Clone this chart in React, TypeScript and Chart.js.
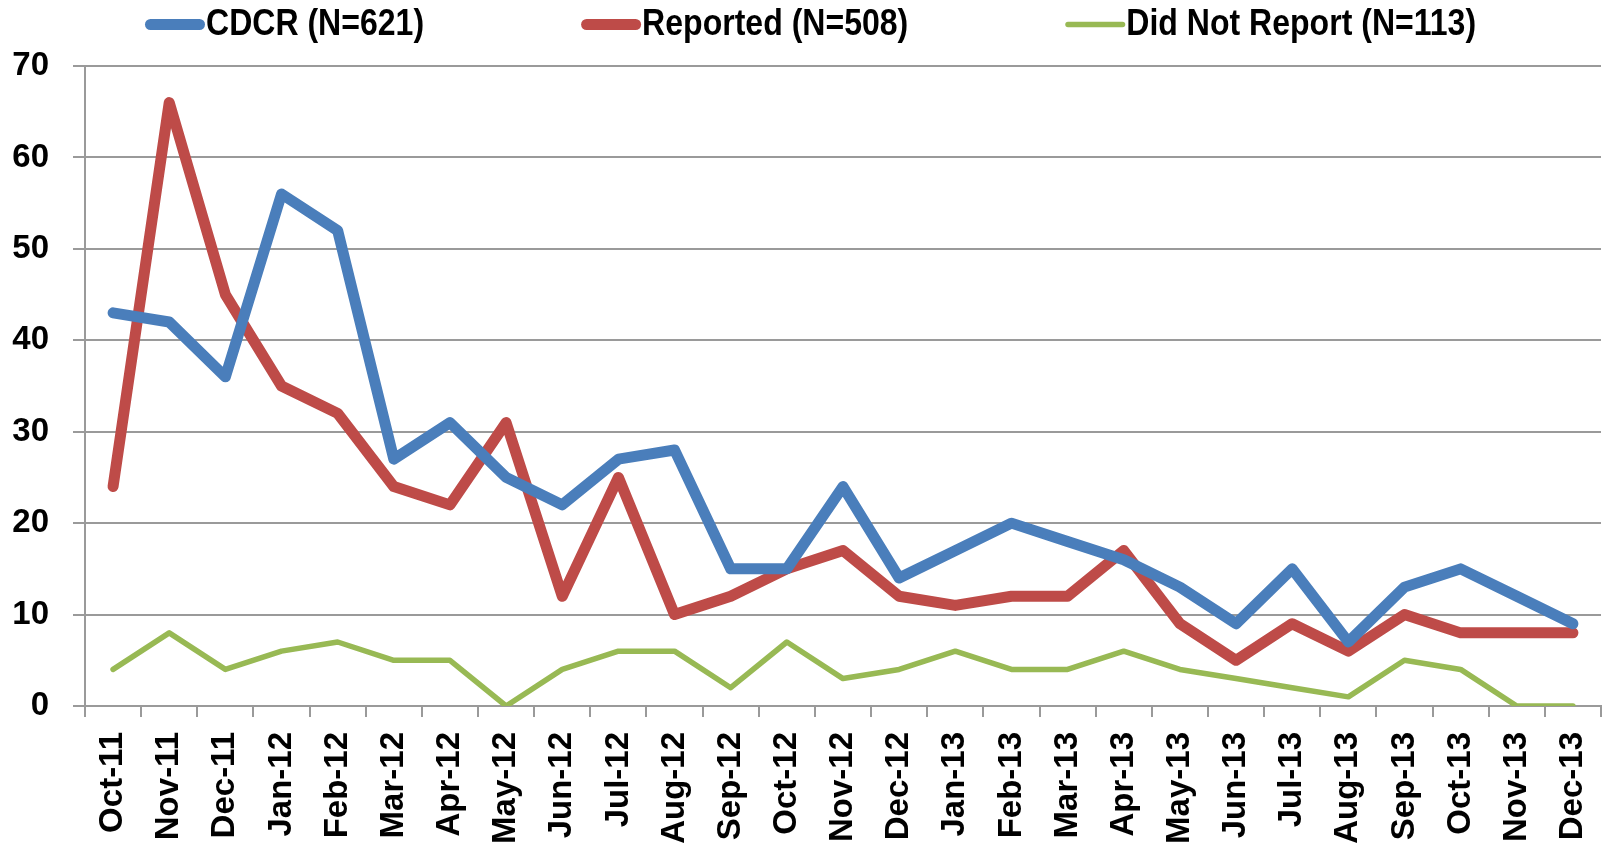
import React, { useEffect, useRef } from 'react';
import { Chart, registerables } from 'chart.js';

Chart.register(...registerables);

const months = [
  'Oct-11', 'Nov-11', 'Dec-11', 'Jan-12', 'Feb-12', 'Mar-12', 'Apr-12', 'May-12', 'Jun-12',
  'Jul-12', 'Aug-12', 'Sep-12', 'Oct-12', 'Nov-12', 'Dec-12', 'Jan-13', 'Feb-13', 'Mar-13',
  'Apr-13', 'May-13', 'Jun-13', 'Jul-13', 'Aug-13', 'Sep-13', 'Oct-13', 'Nov-13', 'Dec-13',
];

const cdcr = [43, 42, 36, 56, 52, 27, 31, 25, 22, 27, 28, 15, 15, 24, 14, 17, 20, 18, 16, 13, 9, 15, 7, 13, 15, 12, 9];
const reported = [24, 66, 45, 35, 32, 24, 22, 31, 12, 25, 10, 12, 15, 17, 12, 11, 12, 12, 17, 9, 5, 9, 6, 10, 8, 8, 8];
const didNotReport = [4, 8, 4, 6, 7, 5, 5, 0, 4, 6, 6, 2, 7, 3, 4, 6, 4, 4, 6, 4, 3, 2, 1, 5, 4, 0, 0];

const seriesLabels = ['CDCR (N=621)', 'Reported (N=508)', 'Did Not Report (N=113)'];
const yMin = 0;
const yMax = 70;
const yStep = 10;

const BLUE = '#4A7EBB';
const RED = '#BE4B48';
const GREEN = '#98B954';
const GRID = '#9a9a9a';
const TICK_FONT = '"Liberation Sans", Arial, sans-serif';
const LEGEND_FONT = '"Liberation Sans", Arial, sans-serif';

export default function App() {
  const ref = useRef<HTMLCanvasElement>(null);

  useEffect(() => {
    if (!ref.current) return;

    const legendPlugin = {
      id: 'topLegend',
      afterDraw(chart: any) {
        const ctx = chart.ctx as CanvasRenderingContext2D;
        const y = 24.5;
        const squeeze = 0.89;
        let x = 145;
        ctx.save();
        ctx.font = `bold 36px ${LEGEND_FONT}`;
        ctx.textBaseline = 'middle';
        ctx.textAlign = 'left';
        chart.data.datasets.forEach((ds: any) => {
          const lw = ds.borderWidth;
          ctx.beginPath();
          ctx.strokeStyle = ds.borderColor;
          ctx.lineWidth = lw;
          ctx.lineCap = 'round';
          ctx.moveTo(x + lw / 2, y);
          ctx.lineTo(x + 60 - lw / 2, y);
          ctx.stroke();
          ctx.fillStyle = '#000';
          const tx = x + 61;
          ctx.save();
          ctx.translate(tx, y + 1);
          ctx.scale(squeeze, 1);
          ctx.fillText(ds.label, 0, 0);
          ctx.restore();
          x = tx + ctx.measureText(ds.label).width * squeeze + 157;
        });
        ctx.restore();
      },
    };

    const chart = new Chart(ref.current, {
      type: 'line',
      data: {
        labels: months,
        datasets: [
          {
            label: seriesLabels[0],
            data: cdcr,
            borderColor: BLUE,
            backgroundColor: BLUE,
            borderWidth: 11,
            pointRadius: 0,
            borderJoinStyle: 'round',
            borderCapStyle: 'round',
            tension: 0,
          },
          {
            label: seriesLabels[1],
            data: reported,
            borderColor: RED,
            backgroundColor: RED,
            borderWidth: 11,
            pointRadius: 0,
            borderJoinStyle: 'round',
            borderCapStyle: 'round',
            tension: 0,
          },
          {
            label: seriesLabels[2],
            data: didNotReport,
            borderColor: GREEN,
            backgroundColor: GREEN,
            borderWidth: 5.5,
            pointRadius: 0,
            borderJoinStyle: 'round',
            borderCapStyle: 'round',
            tension: 0,
          },
        ],
      },
      options: {
        animation: false,
        responsive: true,
        maintainAspectRatio: false,
        layout: { padding: { top: 66, right: 3, left: 0, bottom: 0 } },
        plugins: {
          legend: { display: false },
          tooltip: { enabled: false },
        },
        scales: {
          x: {
            offset: true,
            afterFit: (s: any) => {
              s.height = 141;
              s.paddingLeft = 0;
              s.paddingRight = 0;
            },
            grid: {
              drawOnChartArea: false,
              drawTicks: true,
              tickLength: 11,
              color: GRID,
              lineWidth: 2,
              offset: true,
            },
            border: { color: GRID, width: 2 },
            ticks: {
              autoSkip: false,
              minRotation: 90,
              maxRotation: 90,
              padding: 15,
              color: '#000',
              font: { family: TICK_FONT, size: 33, weight: 'bold' },
            },
          },
          y: {
            min: yMin,
            max: yMax,
            afterFit: (s: any) => { s.width = 85; },
            grid: {
              color: GRID,
              lineWidth: 2,
              drawTicks: true,
              tickLength: 12,
            },
            border: { color: GRID, width: 2 },
            ticks: {
              stepSize: yStep,
              padding: 24,
              color: '#000',
              font: { family: TICK_FONT, size: 33, weight: 'bold' },
            },
          },
        },
      },
      plugins: [legendPlugin],
    });

    return () => chart.destroy();
  }, []);

  return (
    <div style={{ position: 'fixed', left: 0, top: 0, width: '100vw', height: '100vh', background: '#fff' }}>
      <canvas ref={ref} />
    </div>
  );
}
